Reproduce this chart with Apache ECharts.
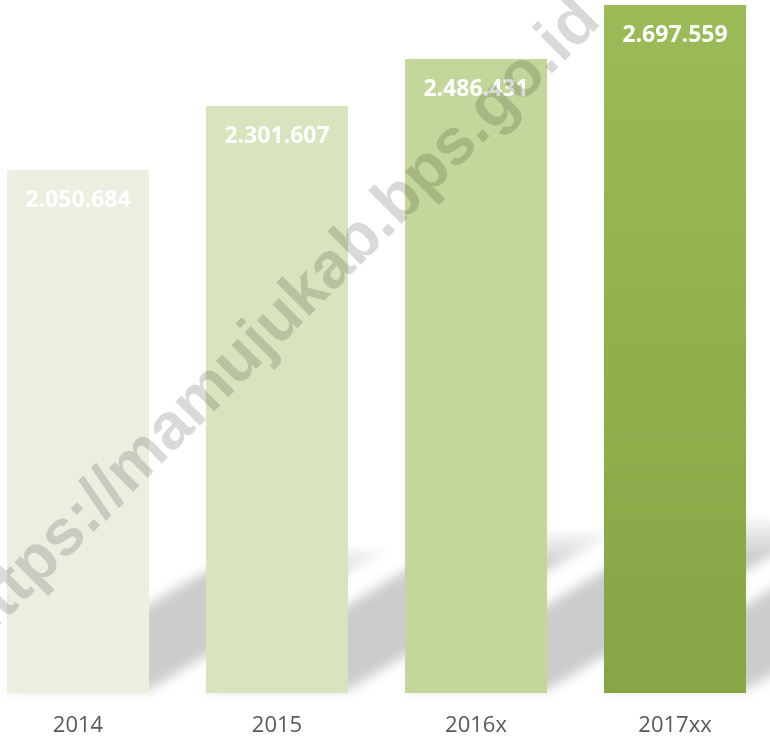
<!DOCTYPE html>
<html>
<head>
<meta charset="utf-8">
<script src="https://cdn.jsdelivr.net/npm/echarts@6/dist/echarts.min.js"></script>
<style>
  html, body { margin: 0; padding: 0; background: #fff; }
  #main { width: 770px; height: 737px; }
</style>
</head>
<body>
<div id="main"></div>
<script>
var years = ['2014', '2015', '2016x', '2017xx'];
var values = [2050684, 2301607, 2486431, 2697559];
var yMax = 2700000;

var barColors = [
	'#EBEFE0',
	'#D8E4BE',
	'#C4D79B',
	new echarts.graphic.LinearGradient(0, 0, 0, 1, [
		{ offset: 0, color: '#9BBB59' },
		{ offset: 1, color: '#86A544' }
	])
];

function formatDots(v) {
	return String(v).replace(/\B(?=(\d{3})+(?!\d))/g, '.');
}

var barData = [];
for (var i = 0; i < values.length; i++) {
	barData.push({
		value: values[i],
		itemStyle: { color: barColors[i] }
	});
}

var shadowData = [];
for (var j = 0; j < values.length; j++) {
	shadowData.push([j, values[j]]);
}

var barRatio = 0.714;

// slanted soft shadow behind each bar, drawn off-canvas and pulled back with shadowOffsetX
function renderShadow(params, api) {
	var base = api.coord([api.value(0), 0]);
	var top = api.coord([api.value(0), api.value(1)]);
	var w = api.size([1, 0])[0] * barRatio;
	var left = base[0] - w / 2;
	var right = base[0] + w / 2;
	var y0 = base[1] - 3;
	var h = (base[1] - top[1]) * 0.28;
	var dx = h / 0.6;
	var off = 3000;
	return {
		type: 'polygon',
		shape: {
			points: [
				[left + off, y0],
				[right + off, y0],
				[right + dx + off, y0 - h],
				[left + dx + off, y0 - h]
			]
		},
		style: {
			fill: new echarts.graphic.LinearGradient(0, 1, 0, 0, [
				{ offset: 0, color: 'rgba(0,0,0,0.2)' },
				{ offset: 0.75, color: 'rgba(0,0,0,0.2)' },
				{ offset: 1, color: 'rgba(0,0,0,0)' }
			]),
			shadowColor: 'rgba(0,0,0,1)',
			shadowBlur: 12,
			shadowOffsetX: -off
		}
	};
}

var chart = echarts.init(document.getElementById('main'));
chart.setOption({
	animation: false,
	backgroundColor: '#ffffff',
	grid: {
		left: -21.5,
		right: -4.5,
		top: 4.5,
		bottom: 44,
		outerBoundsMode: 'none'
	},
	xAxis: {
		type: 'category',
		data: years,
		axisLine: { show: false },
		axisTick: { show: false },
		axisLabel: {
			margin: 22,
			fontSize: 22,
			color: '#595959',
			fontFamily: 'Open Sans'
		}
	},
	yAxis: {
		type: 'value',
		min: 0,
		max: yMax,
		show: false,
		splitLine: { show: false }
	},
	series: [{
		type: 'custom',
		data: shadowData,
		renderItem: renderShadow,
		z: 1,
		silent: true
	}, {
		type: 'bar',
		data: barData,
		barCategoryGap: '28.6%',
		z: 2,
		label: {
			show: true,
			position: 'insideTop',
			distance: 19,
			color: '#ffffff',
			fontSize: 23,
			fontWeight: 'bold',
			fontFamily: 'Open Sans',
			formatter: function (p) { return formatDots(p.value); }
		}
	}],
	graphic: [{
		type: 'text',
		x: 277,
		y: 323,
		rotation: Math.PI / 4,
		z: 100,
		silent: true,
		style: {
			text: 'https://mamujukab.bps.go.id',
			fontSize: 65,
			fontWeight: 'bold',
			fontFamily: 'Liberation Sans',
			fill: 'rgba(0,0,0,0.15)',
			align: 'center',
			verticalAlign: 'middle'
		}
	}]
});
</script>
</body>
</html>
